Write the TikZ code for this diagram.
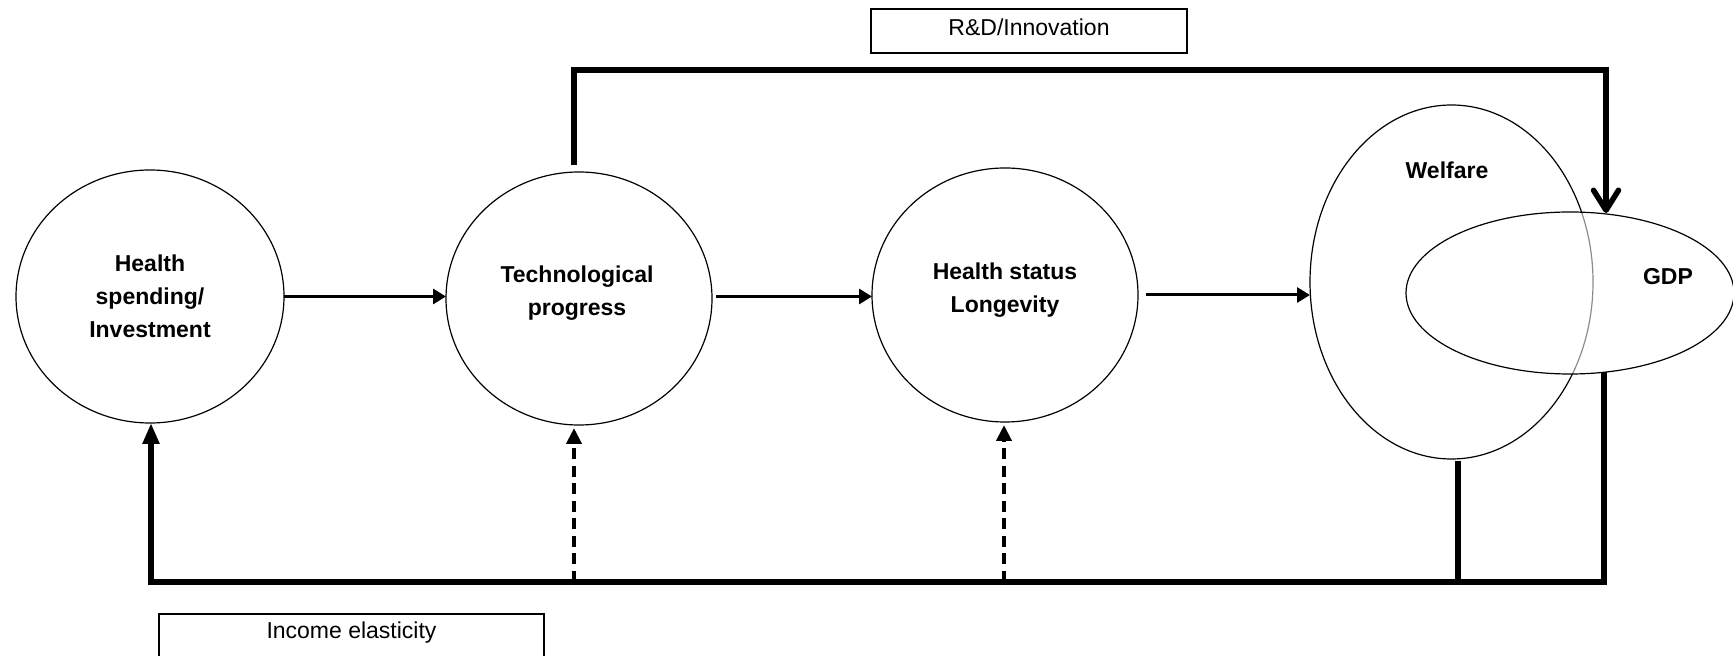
\documentclass[tikz,border=0pt]{standalone}
\usepackage{fontspec}
\setmainfont{Liberation Sans}
\usetikzlibrary{shapes.geometric,arrows.meta}
\begin{document}
\begin{tikzpicture}[x=0.5pt,y=-0.5pt,
  oval/.style={ellipse,draw,line width=0.6pt,inner sep=0pt,outer sep=0pt},
  lab/.style={font=\bfseries\fontsize{11.5}{16.5}\selectfont,align=center,inner sep=0pt},
  plainlab/.style={font=\fontsize{11.5}{14}\selectfont,inner sep=0pt},
  box/.style={draw,line width=0.6pt,inner sep=0pt,outer sep=0pt},
  harrow/.style={line width=1.5pt,-{Triangle[length=6.5pt,width=7.5pt]}},
  darrow/.style={line width=2pt,dash pattern=on 5.5pt off 3.25pt,-{Triangle[length=8pt,width=7.5pt]},shorten >=1.5pt},
  fb/.style={line width=2.75pt}
]
\clip (0,0) rectangle (1733,656);
\fill[white] (0,0) rectangle (1733,656);

% circles
\node[oval,minimum width=134pt,minimum height=126.5pt] (c1) at (150,296.5) {};
\node[oval,minimum width=133pt,minimum height=126.5pt] (c2) at (579,298.5) {};
\node[oval,minimum width=133pt,minimum height=127pt] (c3) at (1005,295) {};
\node[lab] (t1) at (150,296) {Health\\spending/\\Investment};
\node[lab] (t2) at (577,293) {Technological\\progress};
\node[lab] (t3) at (1005,290) {Health status\\Longevity};

% welfare and GDP
\node[oval,minimum width=141.5pt,minimum height=177pt] (welfare) at (1451.5,282) {};
\node[oval,minimum width=164pt,minimum height=81pt,fill=white,fill opacity=0.55,draw opacity=1] (gdp) at (1570,293) {};
\node[lab] (wt) at (1447,170) {Welfare};
\node[lab] (gt) at (1668,277) {GDP};

% forward arrows
\draw[harrow] (c1.east) -- (c1.east -| c2.west);
\draw[harrow,shorten <=2pt] (c2.east) ++(0,-2) coordinate (a2) (a2) -- (a2 -| c3.west);
\draw[harrow,shorten <=4pt] (c3.east) -- (c3.east -| welfare.west);

% R&D loop
\coordinate (rds) at (574,165);
\coordinate (rdc) at (1606,70);
\coordinate (rde) at (1606,213);
\draw[fb,-{Straight Barb[length=10pt,width=12.5pt,round]}] (rds) |- (rdc) -- (rde);
\node[box,minimum width=158pt,minimum height=22pt] (rdbox) at (1029,31) {};
\node[plainlab,anchor=base] (rdtxt) at (1029,36) {R\&D/Innovation};

% feedback loop
\coordinate (BL) at (151,582);
\coordinate (gdpb) at (1604,372);
\coordinate (wb) at (1458,461);
\coordinate (d2) at (574,582);
\coordinate (d3) at (1004,582);
\draw[fb,-{Triangle[length=10.5pt,width=8pt]}] (gdpb) |- (BL) -- (BL |- c1.south);
\draw[fb] (wb) -- (wb |- BL);
\draw[darrow] (d2) -- (d2 |- c2.south);
\draw[darrow] (d3) -- (d3 |- c3.south);

\node[box,minimum width=192.5pt,minimum height=40pt,anchor=north west] (incbox) at (159,614) {};
\node[plainlab,anchor=base] (inctxt) at (351.5,639) {Income elasticity};
\end{tikzpicture}
\end{document}
